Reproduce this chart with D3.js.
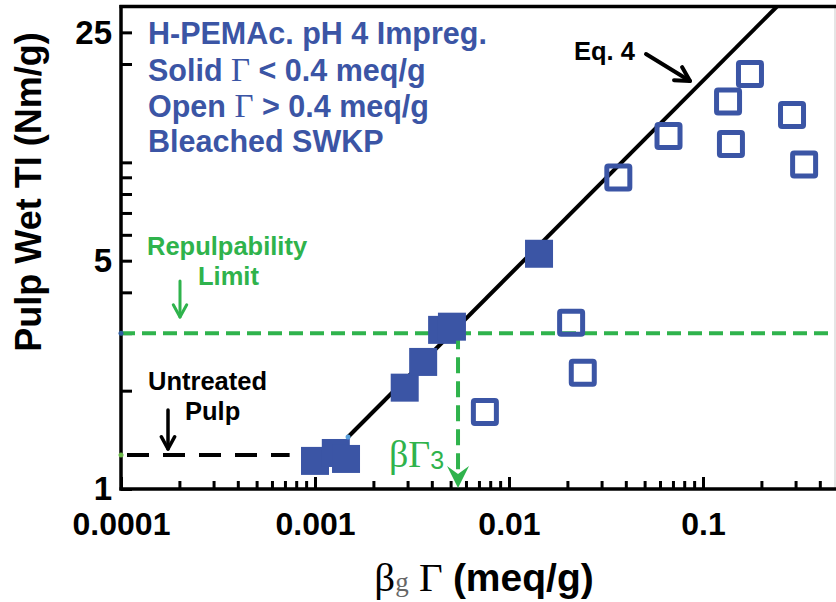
<!DOCTYPE html>
<html>
<head>
<meta charset="utf-8">
<script src="https://cdn.jsdelivr.net/npm/d3@7"></script>
<style>
  body { margin: 0; background: #fff; }
  svg { display: block; }
  text { font-family: "Liberation Sans", Arial, Helvetica, sans-serif; font-weight: bold; }
  .serif { font-family: "Liberation Serif", "Times New Roman", serif; font-weight: normal; }
</style>
</head>
<body>
<script>
// Filled squares: charge below 0.4 meq/g
const solidX = [0.00100, 0.00128, 0.001445, 0.00290, 0.00361, 0.00452, 0.00508, 0.01428];
const solidY = [1.219, 1.289, 1.236, 2.043, 2.449, 3.07, 3.14, 5.25];
// Open squares: charge above 0.4 meq/g
const openX = [0.00751, 0.0209, 0.0240, 0.0366, 0.0664, 0.1346, 0.1393, 0.1746, 0.2876, 0.332];
const openY = [1.72, 3.23, 2.27, 8.98, 12.04, 15.36, 11.38, 18.65, 13.96, 9.85];
// Eq. 4 model line (end points)
const fitX = [0.00148, 0.2406];
const fitY = [1.443, 30];
// Reference levels
const repulpLimit = 3.0;
const untreatedTI = 1.27;
const untreatedEndX = 0.00074;
const betaGamma3 = 0.00546;
// Axis ticks
const xTickValues = [0.0001, 0.001, 0.01, 0.1];
const xTickLabels = ["0.0001", "0.001", "0.01", "0.1"];
const xMinorMultipliers = [2, 3, 4, 5, 6, 7, 8, 9];
const yTickValues = [1, 5, 25];
const yTickLabels = ["1", "5", "25"];
const yMinorValues = [2, 3, 4, 6, 7, 8, 9, 10, 20];

const W = 836, H = 602;
const blue = "#3b55a5", green = "#2fb34c";

const svg = d3.select("body").append("svg").attr("width", W).attr("height", H);

const x = d3.scaleLog().domain([1e-4, 0.479]).range([121, 835]);
const y = d3.scaleLog().domain([1, 30]).range([489, 6.5]);

// frame
svg.append("line").attr("x1", 835).attr("x2", 835).attr("y1", y.range()[1]).attr("y2", y.range()[0])
  .attr("stroke", "#dcdcdc").attr("stroke-width", 1.5);
svg.append("line").attr("x1", x.range()[0] - 1.5).attr("x2", W).attr("y1", y.range()[1]).attr("y2", y.range()[1])
  .attr("stroke", "#000").attr("stroke-width", 3.5);

// x axis
const xMinor = [];
xTickValues.forEach(d => xMinorMultipliers.forEach(m => { const v = d * m; if (v < x.domain()[1]) xMinor.push(v); }));
const gx = svg.append("g").attr("transform", `translate(0,${y.range()[0]})`);
gx.append("g").call(d3.axisBottom(x).tickValues(xMinor).tickSize(-8).tickSizeOuter(0).tickFormat(""))
  .call(g => g.select(".domain").remove())
  .call(g => g.selectAll("line").attr("stroke", "#000").attr("stroke-width", 3));
gx.append("g").call(d3.axisBottom(x).tickValues(xTickValues).tickSize(-12).tickSizeOuter(0)
    .tickFormat((d, i) => xTickLabels[i]))
  .call(g => g.select(".domain").remove())
  .call(g => g.selectAll("line").attr("stroke", "#000").attr("stroke-width", 3))
  .call(g => g.selectAll("text").attr("y", 46).attr("dy", null).attr("fill", "#000")
    .style("font-size", "32px"));
gx.append("line").attr("x1", x.range()[0] - 1.5).attr("x2", W).attr("stroke", "#000").attr("stroke-width", 3.5);

// y axis
const gy = svg.append("g").attr("transform", `translate(${x.range()[0]},0)`);
gy.append("g").call(d3.axisLeft(y).tickValues(yMinorValues).tickSize(-11).tickSizeOuter(0).tickFormat(""))
  .call(g => g.select(".domain").remove())
  .call(g => g.selectAll("line").attr("stroke", "#000").attr("stroke-width", 3));
gy.append("g").call(d3.axisLeft(y).tickValues(yTickValues).tickSize(-11).tickSizeOuter(0)
    .tickFormat((d, i) => yTickLabels[i]))
  .call(g => g.select(".domain").remove())
  .call(g => g.selectAll("line").attr("stroke", "#000").attr("stroke-width", 3))
  .call(g => g.selectAll("text").attr("x", -9).attr("dy", "0.33em").attr("fill", "#000")
    .style("font-size", "33px"));
gy.append("line").attr("y1", y.range()[1] - 1.5).attr("y2", y.range()[0] + 1.5)
  .attr("stroke", "#000").attr("stroke-width", 3.5);

// axis titles
svg.append("text").attr("transform", "translate(41,192) rotate(-90)").attr("text-anchor", "middle")
  .style("font-size", "36px").text("Pulp Wet TI (Nm/g)");
const xt = svg.append("text").attr("x", 484).attr("y", 591).attr("text-anchor", "middle").style("font-size", "39px");
xt.append("tspan").attr("class", "serif").style("font-size", "41px").text("β");
xt.append("tspan").attr("class", "serif").style("font-size", "27px").attr("fill", "#666").text("g");
xt.append("tspan").attr("class", "serif").style("font-size", "41px").text(" Γ ");
xt.append("tspan").text("(meq/g)");

// reference lines
svg.append("line").attr("x1", x.range()[0]).attr("x2", 835).attr("y1", y(repulpLimit)).attr("y2", y(repulpLimit))
  .attr("stroke", green).attr("stroke-width", 4).attr("stroke-dasharray", "14 7");
svg.append("line").attr("x1", x.range()[0] + 6).attr("x2", x(untreatedEndX)).attr("y1", y(untreatedTI)).attr("y2", y(untreatedTI))
  .attr("stroke", "#000").attr("stroke-width", 4).attr("stroke-dasharray", "22 14");
svg.append("line").attr("x1", x(betaGamma3)).attr("x2", x(betaGamma3)).attr("y1", y(repulpLimit)).attr("y2", y.range()[0] - 14)
  .attr("stroke", green).attr("stroke-width", 4).attr("stroke-dasharray", "16 8");
// arrow head at the bottom of the vertical guide
{
  const bx = x(betaGamma3), by = y.range()[0] - 1;
  svg.append("path").attr("d", `M${bx},${by} L${bx - 11},${by - 22} L${bx},${by - 14} L${bx + 11},${by - 22} Z`)
    .attr("fill", green);
}

// Eq. 4 model line
svg.append("line").attr("x1", x(fitX[0])).attr("y1", y(fitY[0])).attr("x2", x(fitX[1])).attr("y2", y(fitY[1]))
  .attr("stroke", "#000").attr("stroke-width", 4);

// small axis markers
svg.append("circle").attr("cx", x.range()[0]).attr("cy", y(repulpLimit)).attr("r", 2.5).attr("fill", "#2d5b9e");
svg.append("circle").attr("cx", x.range()[0]).attr("cy", y(untreatedTI)).attr("r", 2.5).attr("fill", "#6db84a");

// data: filled squares
const sSolid = 28;
svg.append("g").selectAll("rect").data(solidX.map((d, i) => [d, solidY[i]])).join("rect")
  .attr("x", d => x(d[0]) - sSolid / 2).attr("y", d => y(d[1]) - sSolid / 2)
  .attr("width", sSolid).attr("height", sSolid).attr("fill", blue);
svg.append("circle").attr("cx", x(fitX[0])).attr("cy", y(fitY[0])).attr("r", 2.5).attr("fill", "#5aa0dc");

// data: open squares
const sOpen = 23;
svg.append("g").selectAll("rect").data(openX.map((d, i) => [d, openY[i]])).join("rect")
  .attr("x", d => x(d[0]) - sOpen / 2).attr("y", d => y(d[1]) - sOpen / 2)
  .attr("width", sOpen).attr("height", sOpen).attr("rx", 1.5)
  .attr("fill", "none").attr("stroke", blue).attr("stroke-width", 5);

// legend text
const legend = svg.append("g").attr("fill", blue).style("font-size", "30.5px");
legend.append("text").attr("x", 148).attr("y", 44).text("H-PEMAc. pH 4 Impreg.");
const l2 = legend.append("text").attr("x", 148).attr("y", 81);
l2.append("tspan").text("Solid ");
l2.append("tspan").attr("class", "serif").style("font-size", "33px").text("Γ");
l2.append("tspan").text(" < 0.4 meq/g");
const l3 = legend.append("text").attr("x", 148).attr("y", 117);
l3.append("tspan").text("Open ");
l3.append("tspan").attr("class", "serif").style("font-size", "33px").text("Γ");
l3.append("tspan").text(" > 0.4 meq/g");
legend.append("text").attr("x", 148).attr("y", 152).text("Bleached SWKP");

// annotations
function arrow(x1, y1, x2, y2, color, w, head) {
  const a = Math.atan2(y2 - y1, x2 - x1);
  const g = svg.append("g").attr("stroke", color).attr("stroke-width", w).attr("fill", "none")
    .attr("stroke-linecap", "round").attr("stroke-linejoin", "round");
  g.append("line").attr("x1", x1).attr("y1", y1).attr("x2", x2).attr("y2", y2);
  const p1 = [x2 - head * Math.cos(a - 0.5), y2 - head * Math.sin(a - 0.5)];
  const p2 = [x2 - head * Math.cos(a + 0.5), y2 - head * Math.sin(a + 0.5)];
  g.append("path").attr("d", `M${p1} L${x2},${y2} L${p2}`);
}

svg.append("text").attr("x", 574).attr("y", 60).style("font-size", "25.5px").text("Eq. 4");
arrow(646, 54, 690, 81, "#000", 4, 16);

svg.append("text").attr("x", 147).attr("y", 255).attr("fill", green).style("font-size", "25.5px").text("Repulpability");
svg.append("text").attr("x", 198).attr("y", 285).attr("fill", green).style("font-size", "25.5px").text("Limit");
arrow(180, 281, 180, 317, green, 3, 14);

svg.append("text").attr("x", 148).attr("y", 390).style("font-size", "25.5px").text("Untreated");
svg.append("text").attr("x", 185).attr("y", 420).style("font-size", "25.5px").text("Pulp");
arrow(168, 410, 168, 449, "#000", 3.5, 14);

const bg = svg.append("text").attr("x", 389).attr("y", 467).attr("fill", green);
bg.append("tspan").attr("class", "serif").style("font-size", "38px").text("βΓ");
bg.append("tspan").attr("dy", 2).style("font-size", "25px").style("font-weight", "normal").text("3");
</script>
</body>
</html>
